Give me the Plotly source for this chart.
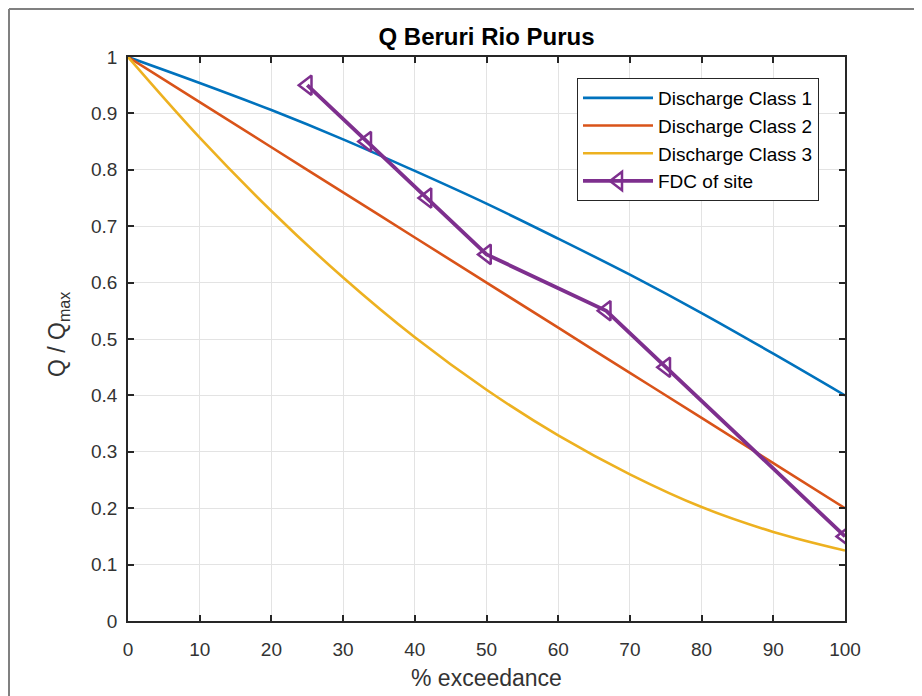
import plotly.graph_objects as go

# ---- data ----
exceedance = [0, 10, 20, 30, 40, 50, 60, 70, 80, 90, 100]
class1 = [1.0, 0.954, 0.906, 0.854, 0.798, 0.74, 0.678, 0.614, 0.546, 0.474, 0.40]
class2 = [1.0, 0.92, 0.84, 0.76, 0.68, 0.60, 0.52, 0.44, 0.36, 0.28, 0.20]
class3 = [1.0, 0.857, 0.727, 0.609, 0.503, 0.41, 0.329, 0.26, 0.202, 0.158, 0.125]
fdc_x = [25, 33.3, 41.7, 50, 66.7, 75, 100]
fdc_y = [0.95, 0.85, 0.75, 0.65, 0.55, 0.45, 0.15]
x_ticks = [0, 10, 20, 30, 40, 50, 60, 70, 80, 90, 100]
y_ticks = [0, 0.1, 0.2, 0.3, 0.4, 0.5, 0.6, 0.7, 0.8, 0.9, 1]
y_ticklabels = ["0", "0.1", "0.2", "0.3", "0.4", "0.5", "0.6", "0.7", "0.8", "0.9", "1"]

FONT = "Liberation Sans, Arial, Helvetica, sans-serif"
# page body has an 8px margin, so the figure is sized to fit the 922x696 window
OFF = 8
W, H = 922 - OFF, 696 - OFF
L, T = 128 - OFF, 57 - OFF
R, B = W - (845 - OFF), H - (621 - OFF)
pw, ph = W - L - R, H - T - B


def px_x(sx):
    return ((sx - OFF) - L) / pw


def px_y(sy):
    return (H - B - (sy - OFF)) / ph


fig = go.Figure()
fig.add_trace(go.Scatter(x=exceedance, y=class1, mode="lines", name="Discharge Class 1",
                         line=dict(color="#0072BD", width=2.6, shape="spline")))
fig.add_trace(go.Scatter(x=exceedance, y=class2, mode="lines", name="Discharge Class 2",
                         line=dict(color="#D95319", width=2.6, shape="spline")))
fig.add_trace(go.Scatter(x=exceedance, y=class3, mode="lines", name="Discharge Class 3",
                         line=dict(color="#EDB120", width=2.6, shape="spline")))
fig.add_trace(go.Scatter(x=fdc_x, y=fdc_y, mode="lines+markers", name="FDC of site",
                         line=dict(color="#7E2F8E", width=3.8),
                         marker=dict(symbol="triangle-left-open", size=17,
                                     color="#7E2F8E", line=dict(width=2.5, color="#7E2F8E"))))

axis_common = dict(showgrid=True, gridcolor="#e3e3e3", gridwidth=1,
                   showline=True, linecolor="#262626", linewidth=1.5, mirror="ticks",
                   ticks="inside", ticklen=6, tickwidth=1.5, tickcolor="#262626",
                   zeroline=False,
                   tickfont=dict(family=FONT, size=19, color="#333333"))

fig.update_layout(
    width=W, height=H,
    margin=dict(l=L, r=R, t=T, b=B, autoexpand=False),
    paper_bgcolor="white", plot_bgcolor="white",
    showlegend=True,
    title=dict(text="<b>Q Beruri Rio Purus</b>", x=(L + pw / 2) / W, xanchor="center",
               y=1 - (37 - OFF) / H, yanchor="middle",
               font=dict(family=FONT, size=24, color="#000000")),
    legend=dict(x=px_x(577), y=px_y(78), xanchor="left", yanchor="top",
                bordercolor="#262626", borderwidth=1, bgcolor="white",
                font=dict(family=FONT, size=19, color="#000000"),
                itemwidth=70, tracegroupgap=0),
    xaxis=dict(range=[0, 100], tickvals=x_ticks, ticklabelstandoff=10, **axis_common),
    yaxis=dict(range=[0, 1], tickvals=y_ticks, ticktext=y_ticklabels,
               ticklabelstandoff=5, **axis_common),
    annotations=[
        dict(text="% exceedance", xref="paper", yref="paper",
             x=0.5, y=px_y(678), xanchor="center", yanchor="middle",
             showarrow=False, font=dict(family=FONT, size=23, color="#333333")),
        dict(text="Q / Q<sub>max</sub>", xref="paper", yref="paper",
             x=px_x(58), y=px_y(335), xanchor="center", yanchor="middle",
             textangle=-90, showarrow=False, font=dict(family=FONT, size=23, color="#333333")),
    ],
    shapes=[
        dict(type="line", xref="paper", yref="paper",
             x0=px_x(OFF + 1), x1=px_x(940), y0=px_y(OFF + 1), y1=px_y(OFF + 1),
             line=dict(color="#808080", width=2)),
        dict(type="line", xref="paper", yref="paper",
             x0=px_x(OFF + 1), x1=px_x(OFF + 1), y0=px_y(OFF + 1), y1=px_y(720),
             line=dict(color="#808080", width=2)),
    ],
)

fig.write_html("out.html")
